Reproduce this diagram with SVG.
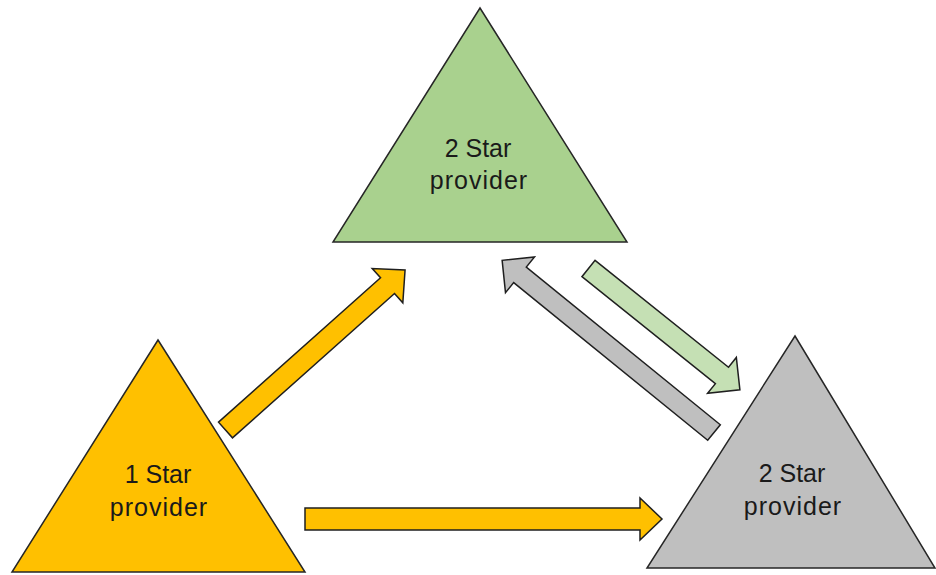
<svg xmlns="http://www.w3.org/2000/svg" width="936" height="575" viewBox="0 0 936 575">
<style>
.tri{stroke:#262626;stroke-width:1.5;stroke-linejoin:miter}
.arr{stroke:#1f1f1f;stroke-width:1.5;stroke-linejoin:miter}
.lbl{font-family:"Liberation Sans",Arial,sans-serif;font-size:25px;fill:#1a1a1a;text-anchor:middle}
.sp{letter-spacing:1px}
</style>
<rect width="936" height="575" fill="#ffffff"/>
<g id="node-top">
<polygon class="tri" points="480,8 627,242 333,242" fill="#A9D18E"/>
<text class="lbl" x="478" y="157">2 Star</text>
<text class="lbl sp" x="479" y="189">provider</text>
</g>
<g id="node-left">
<polygon class="tri" points="158,340 305,572 12,572" fill="#FFC000"/>
<text class="lbl" x="158" y="483">1 Star</text>
<text class="lbl sp" x="159" y="516">provider</text>
</g>
<g id="node-right">
<polygon class="tri" points="795,336 935,568 647,568" fill="#BFBFBF"/>
<text class="lbl" x="792" y="482">2 Star</text>
<text class="lbl sp" x="793" y="515">provider</text>
</g>
<g id="connectors">
<polygon class="arr" fill="#FFC000" transform="translate(225.5,430) rotate(-41.7)" points="0,-10.5 217,-10.5 217,-23 240.5,0 217,23 217,10.5 0,10.5"/>
<polygon class="arr" fill="#FFC000" points="305,508 640,508 640,498 662,519 640,540 640,530 305,530"/>
<polygon class="arr" fill="#C5E0B4" transform="translate(588.5,268.5) rotate(38.7)" points="0,-10.5 171,-10.5 171,-23 194,0 171,23 171,10.5 0,10.5"/>
<polygon class="arr" fill="#BFBFBF" transform="translate(714,432.5) rotate(-140.9)" points="0,-10 250,-10 250,-23 273,0 250,23 250,10 0,10"/>
</g>
</svg>
